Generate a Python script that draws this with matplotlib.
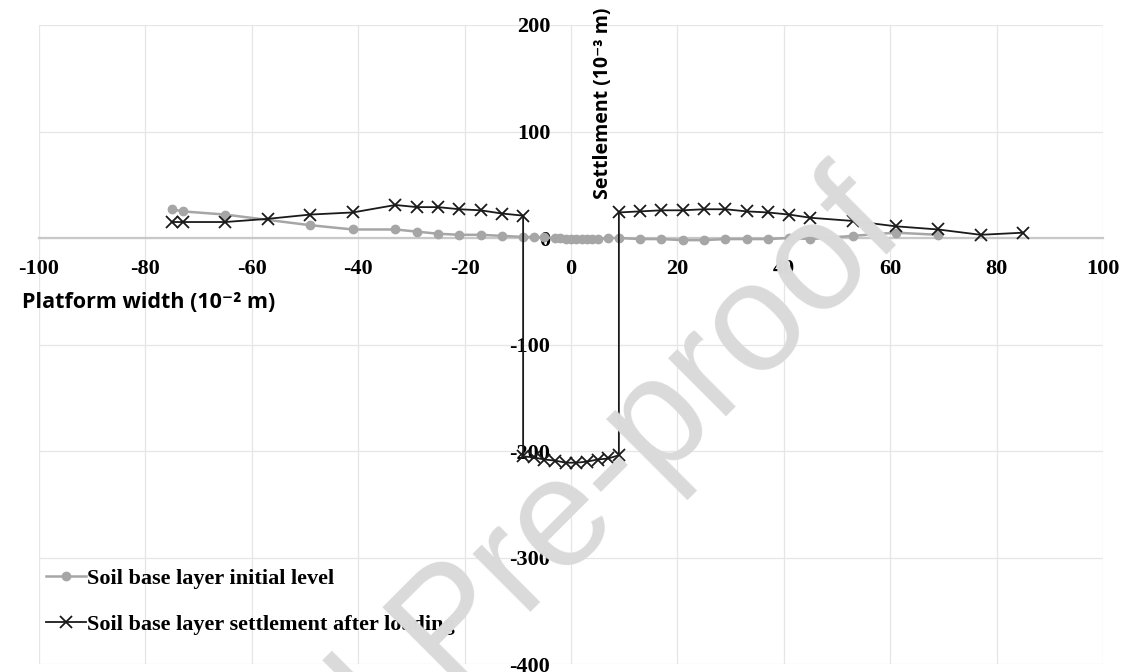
import numpy as np
import matplotlib
matplotlib.use("Agg")
import matplotlib.pyplot as plt

# soil base layer initial level (grey dots)
x_init = [-75, -73, -65, -49, -41, -33, -29, -25, -21, -17, -13, -9, -7, -5, -3, -2, -1, 0, 1, 2, 3, 4, 5, 7, 9,
          13, 17, 21, 25, 29, 33, 37, 41, 45, 53, 61, 69]
y_init = [27, 25, 22, 12, 8, 8, 6, 4, 3, 3, 2, 1, 1, 0.5, 0, 0, -1, -1, -1, -1, -1, -1, -1, 0, 0,
          -1, -1, -2, -2, -1, -1, -1, 0, -1, 2, 5, 3]

# soil base layer settlement after loading (black crosses)
x_sett = [-75, -73, -65, -57, -49, -41, -33, -29, -25, -21, -17, -13, -9,
          -9, -7, -5, -3, -1, 1, 3, 5, 7, 9,
          9, 13, 17, 21, 25, 29, 33, 37, 41, 45, 53, 61, 69, 77, 85]
y_sett = [15, 15, 15, 18, 22, 24, 31, 29, 29, 27, 26, 23, 21,
          -205, -206, -208, -209, -211, -211, -210, -208, -207, -204,
          24, 25, 26, 26, 27, 27, 25, 24, 22, 19, 16, 11, 8, 3, 5]

xticks = [-100, -80, -60, -40, -20, 0, 20, 40, 60, 80, 100]
yticks = [-400, -300, -200, -100, 0, 100, 200]

W, H = 1127, 672
fig = plt.figure(figsize=(W / 100, H / 100), dpi=100)
ax = fig.add_axes([39 / W, 8 / H, 1064 / W, 639 / H])
ax.set_xlim(-100, 100)
ax.set_ylim(-400, 200)

serif_bold = dict(family="Liberation Serif", weight="bold", size=16)

ax.plot(x_init, y_init, color="#a6a6a6", marker="o", markersize=6, linewidth=1.8,
        label="Soil base layer initial level", zorder=3)
ax.plot(x_sett, y_sett, color="#1a1a1a", marker="x", markersize=9, markeredgewidth=1.3,
        linewidth=1.3, label="Soil base layer settlement after loading", zorder=4)

for s in ["top", "right", "left"]:
    ax.spines[s].set_visible(False)
ax.spines["left"].set_position(("data", 0))
ax.spines["bottom"].set_position(("data", 0))
ax.spines["bottom"].set_color("#c8c8c8")
ax.spines["bottom"].set_linewidth(1.6)

ax.set_xticks(xticks)
ax.set_yticks(yticks)
ax.set_xticklabels([str(v) for v in xticks], fontdict=serif_bold)
ax.set_yticklabels([str(v) for v in yticks], fontdict=serif_bold)
ax.tick_params(axis="x", length=0, pad=15)
ax.tick_params(axis="y", length=0, pad=15)
ax.grid(color="#e6e6e6", linewidth=0.9)
ax.set_axisbelow(True)

fig.text(22 / W, 1 - 302 / H, "Platform width (10⁻² m)", ha="left", va="center",
         family=["Open Sans", "DejaVu Sans"], weight="bold", size=15.5)
fig.text(603 / W, 1 - 103 / H, "Settlement (10⁻³ m)", ha="center", va="center", rotation=90,
         family=["Open Sans", "DejaVu Sans"], weight="bold", size=14)

leg = ax.legend(loc="upper left", bbox_to_anchor=(46 / W, 1 - 568 / H), bbox_transform=fig.transFigure,
                frameon=False, prop=serif_bold, handlelength=1.8, handletextpad=0.05,
                labelspacing=1.15, borderpad=0, borderaxespad=0)

# watermark
fig.text(880 / W, 1 - 205 / H, "Journal Pre-proof", rotation=45, rotation_mode="anchor",
         ha="right", va="center", fontsize=112, color="#dadada",
         family="Liberation Sans", zorder=10)

fig.savefig("out.png", dpi=100)
